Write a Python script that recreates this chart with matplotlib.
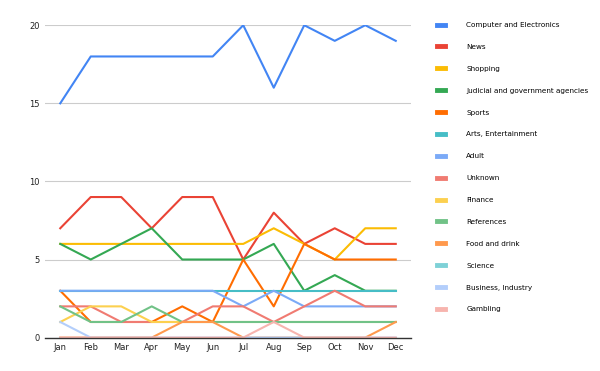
import matplotlib.pyplot as plt
from matplotlib.lines import Line2D

months = ['Jan', 'Feb', 'Mar', 'Apr', 'May', 'Jun', 'Jul', 'Aug', 'Sep', 'Oct', 'Nov', 'Dec']

computer = [15, 18, 18, 18, 18, 18, 20, 16, 20, 19, 20, 19]
news = [7, 9, 9, 7, 9, 9, 5, 8, 6, 7, 6, 6]
shopping = [6, 6, 6, 6, 6, 6, 6, 7, 6, 5, 7, 7]
judicial = [6, 5, 6, 7, 5, 5, 5, 6, 3, 4, 3, 3]
sports = [3, 1, 1, 1, 2, 1, 5, 2, 6, 5, 5, 5]
arts = [3, 3, 3, 3, 3, 3, 3, 3, 3, 3, 3, 3]
adult = [3, 3, 3, 3, 3, 3, 2, 3, 2, 2, 2, 2]
unknown = [2, 2, 1, 1, 1, 2, 2, 1, 2, 3, 2, 2]
finance = [1, 2, 2, 1, 1, 1, 1, 1, 1, 1, 1, 1]
references = [2, 1, 1, 2, 1, 1, 1, 1, 1, 1, 1, 1]
food = [0, 0, 0, 0, 1, 1, 0, 0, 0, 0, 0, 1]
science = [0, 0, 0, 0, 0, 0, 0, 0, 0, 0, 0, 0]
business = [1, 0, 0, 0, 0, 0, 0, 0, 0, 0, 0, 0]
gambling = [0, 0, 0, 0, 0, 0, 0, 1, 0, 0, 0, 0]

series = [
    ('Computer and Electronics', computer, '#4285F4'),
    ('News', news, '#EA4335'),
    ('Shopping', shopping, '#FBBC04'),
    ('Judicial and government agencies', judicial, '#34A853'),
    ('Sports', sports, '#FF6D01'),
    ('Arts, Entertainment', arts, '#46BDC6'),
    ('Adult', adult, '#7BAAF7'),
    ('Unknown', unknown, '#F07B72'),
    ('Finance', finance, '#FCD04F'),
    ('References', references, '#71C287'),
    ('Food and drink', food, '#FF994D'),
    ('Science', science, '#7ED1D7'),
    ('Business, Industry', business, '#B3CEFB'),
    ('Gambling', gambling, '#F7B4AE'),
]

fig = plt.figure(figsize=(6, 3.71), dpi=100)
ax = fig.add_axes([0.075, 0.09, 0.61, 0.842])

x = range(len(months))
handles = []
for i, (name, vals, col) in enumerate(series):
    ax.plot(x, vals, color=col, lw=1.5, zorder=2 + i * 0.01)
    handles.append(Line2D([], [], color=col, lw=3.5, label=name))

ax.set_ylim(0, 20)
ax.set_xlim(-0.5, 11.5)
ax.set_yticks([0, 5, 10, 15, 20])
ax.set_xticks(list(x))
ax.set_xticklabels(months)
ax.tick_params(length=0, labelsize=6, pad=4, colors='#222222')
ax.grid(axis='y', color='#cccccc', lw=0.8)
ax.set_axisbelow(True)
for s in ['top', 'right', 'left']:
    ax.spines[s].set_visible(False)
ax.spines['bottom'].set_color('#333333')
ax.spines['bottom'].set_linewidth(1)
ax.spines['bottom'].set_zorder(5)

fig.legend(handles=handles, loc='upper left', bbox_to_anchor=(0.717, 0.958),
           frameon=False, fontsize=5.2, handlelength=1.2, handletextpad=2.9,
           labelspacing=2.19)

fig.savefig('out.png', dpi=100)
